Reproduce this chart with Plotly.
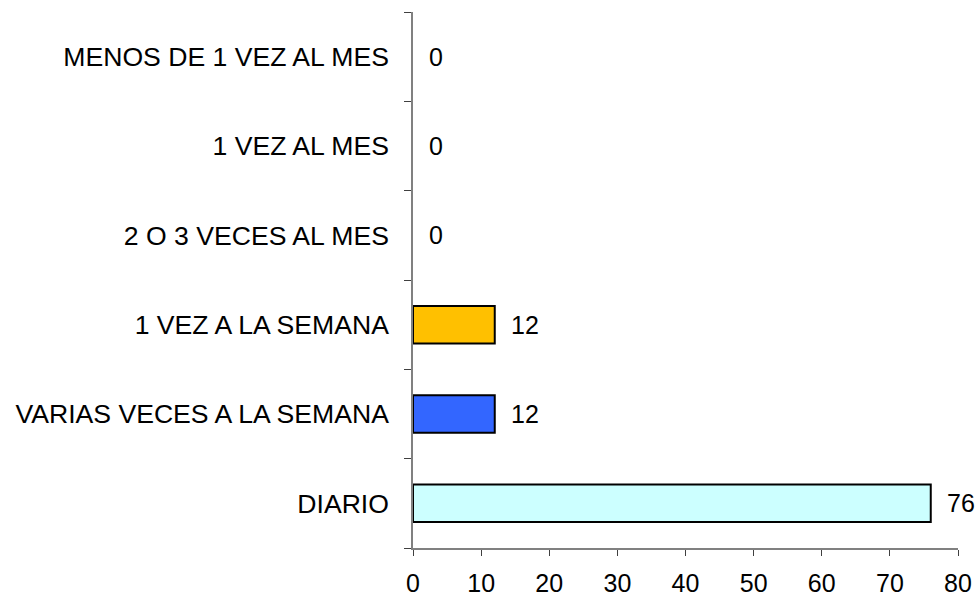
import plotly.graph_objects as go

# Frequency categories (bottom to top) and counts
categories = [
    "DIARIO",
    "VARIAS VECES A LA SEMANA",
    "1 VEZ A LA SEMANA",
    "2 O 3 VECES AL MES",
    "1 VEZ AL MES",
    "MENOS DE 1 VEZ AL MES",
]
values = [76, 12, 12, 0, 0, 0]
bar_colors = ["#CCFFFF", "#3366FF", "#FFC000", "#FFFFFF", "#FFFFFF", "#FFFFFF"]
x_ticks = [0, 10, 20, 30, 40, 50, 60, 70, 80]

FONT = "Liberation Sans, Arial, sans-serif"
FONT_SIZE = 26.6
TICK_FONT_SIZE = 25

# Empty bars get no outline so nothing shows at zero
outline_widths = [2 if v > 0 else 0 for v in values]

fig = go.Figure()
fig.add_trace(
    go.Bar(
        y=categories,
        x=values,
        orientation="h",
        width=0.42,
        marker=dict(color=bar_colors, line=dict(color="#000000", width=outline_widths)),
        hoverinfo="x+y",
    )
)

# Value labels to the right of each bar
for cat, val in zip(categories, values):
    fig.add_annotation(
        x=val,
        y=cat,
        text=str(val),
        showarrow=False,
        xanchor="left",
        yanchor="middle",
        xshift=14,
        font=dict(family=FONT, size=TICK_FONT_SIZE, color="#000000"),
    )

fig.update_layout(
    width=980,
    height=600,
    margin=dict(l=413, r=22, t=12, b=52),
    paper_bgcolor="#FFFFFF",
    plot_bgcolor="#FFFFFF",
    showlegend=False,
    bargap=0.58,
    font=dict(family=FONT, size=FONT_SIZE, color="#000000"),
)

fig.update_xaxes(
    range=[0, 80],
    tickvals=x_ticks,
    ticktext=[str(t) for t in x_ticks],
    showgrid=False,
    zeroline=False,
    showline=True,
    linecolor="#808080",
    linewidth=1.5,
    ticks="outside",
    ticklen=6,
    tickcolor="#404040",
    tickwidth=1,
    ticklabelstandoff=6,
    tickfont=dict(family=FONT, size=TICK_FONT_SIZE, color="#000000"),
    automargin=False,
    fixedrange=True,
)

fig.update_yaxes(
    type="category",
    categoryorder="array",
    categoryarray=categories,
    tickson="boundaries",
    showgrid=False,
    zeroline=False,
    showline=True,
    linecolor="#808080",
    linewidth=1.5,
    ticks="outside",
    ticklen=7,
    tickcolor="#404040",
    tickwidth=1,
    ticklabelstandoff=17,
    tickfont=dict(family=FONT, size=FONT_SIZE, color="#000000"),
    automargin=False,
    fixedrange=True,
)

fig.write_html("out.html")
